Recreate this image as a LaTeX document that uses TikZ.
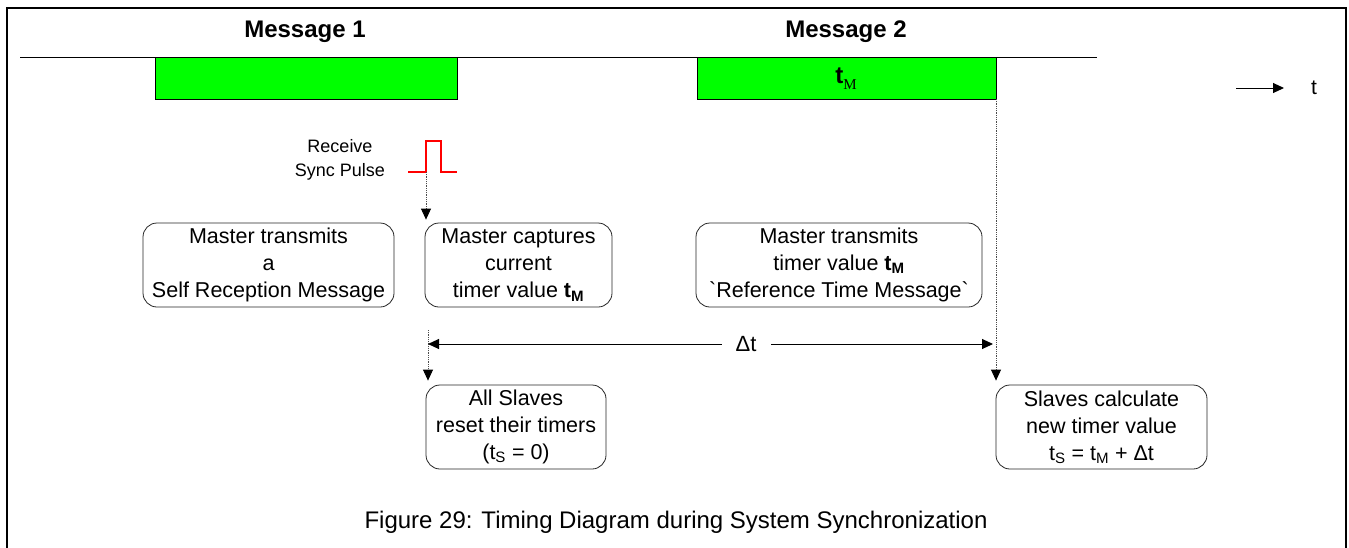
\documentclass[tikz,border=0pt]{standalone}
\usepackage{fontspec}
\setmainfont{Liberation Sans}
\newfontfamily\serifsub{Liberation Serif}
\usetikzlibrary{arrows.meta,calc}

\tikzset{
  msgbox/.style={draw=black, line width=1.2pt, fill=green, minimum height=42pt,
                 anchor=north west, inner sep=0pt},
  notebox/.style={draw=black!85, line width=0.8pt, rounded corners=14pt,
                  align=center, inner sep=0pt, minimum height=84pt,
                  font=\fontsize{21.5}{27}\selectfont},
  dotline/.style={densely dotted, black!70, line width=0.8pt},
  tip/.style={-{Triangle[length=11pt,width=10pt,black]}},
  bigtext/.style={font=\fontsize{24}{28}\selectfont\bfseries}
}

\begin{document}
\begin{tikzpicture}[x=1pt,y=-1pt]
\useasboundingbox (0,0) rectangle (1349,547);
\draw[line width=2.7pt] (7,548) -- (7,8) -- (1346,8) -- (1346,548);
\draw[line width=1pt] (20,57) -- (1097,57);

\node[bigtext] (title1) at (305,32) {Message 1};
\node[bigtext] (title2) at (846,32) {Message 2};
\node[msgbox, minimum width=302pt] (msg1) at (155,57) {};
\node[msgbox, minimum width=299pt] (msg2) at (697,57) {};
\node[inner sep=0pt] (tm) at (846,79)
  {\fontsize{24}{28}\selectfont\textbf{t}\raisebox{-6pt}{\fontsize{15}{15}\serifsub M}};

\coordinate (tstart) at (1236,88);
\node[font=\fontsize{21}{26}\selectfont] (tlabel) at (1314,88) {t};
\draw[tip, line width=1pt] (tstart) -- ++(48,0);

\node[align=center, font=\fontsize{18}{23.5}\selectfont] (recv) at (340,160)
  {Receive\\Sync Pulse};
\draw[red, line width=1.4pt] (408,172) -- (426,172) coordinate (pulse)
  -- (426,141) -- (441,141) -- (441,172) -- (457,172);

\node[notebox, minimum width=251pt] (selfmsg) at (268.5,265)
  {Master transmits\\a\\Self Reception Message};
\node[notebox, minimum width=187pt] (capture) at (518.5,265)
  {Master captures\\current\\timer value \textbf{t\textsubscript{M}}};
\node[notebox, minimum width=286pt] (reftime) at (839,265)
  {Master transmits\\timer value \textbf{t\textsubscript{M}}\\\textasciigrave Reference Time Message\textasciigrave};
\node[notebox, minimum width=180pt] (reset) at (516,427)
  {All Slaves\\reset their timers\\(t\textsubscript{S} = 0)};
\node[notebox, minimum width=211pt] (newval) at (1101.5,427)
  {Slaves calculate\\new timer value\\t\textsubscript{S} = t\textsubscript{M} + Δt};

\draw[dotline, tip] (pulse) -- ($(pulse |- capture.north)+(0,-3)$);
\coordinate (dtl) at (428,330);
\draw[dotline, tip] (dtl) -- ($(dtl |- reset.north)+(0,-4)$);
\coordinate (dtr) at (996,99);
\draw[dotline, tip] (dtr) -- ($(dtr |- newval.north)+(0,-4)$);

\draw[{Triangle[length=11pt,width=10pt]}-{Triangle[length=11pt,width=10pt]}, line width=1pt]
  (dtl |- 0,344) -- node[pos=0.563, fill=white, inner xsep=14pt,
  font=\fontsize{22}{26}\selectfont] (delta) {Δt} (993,344);

\node[font=\fontsize{24}{28}\selectfont] (caption) at (676,522)
  {Figure 29: Timing Diagram during System Synchronization};
\end{tikzpicture}
\end{document}
